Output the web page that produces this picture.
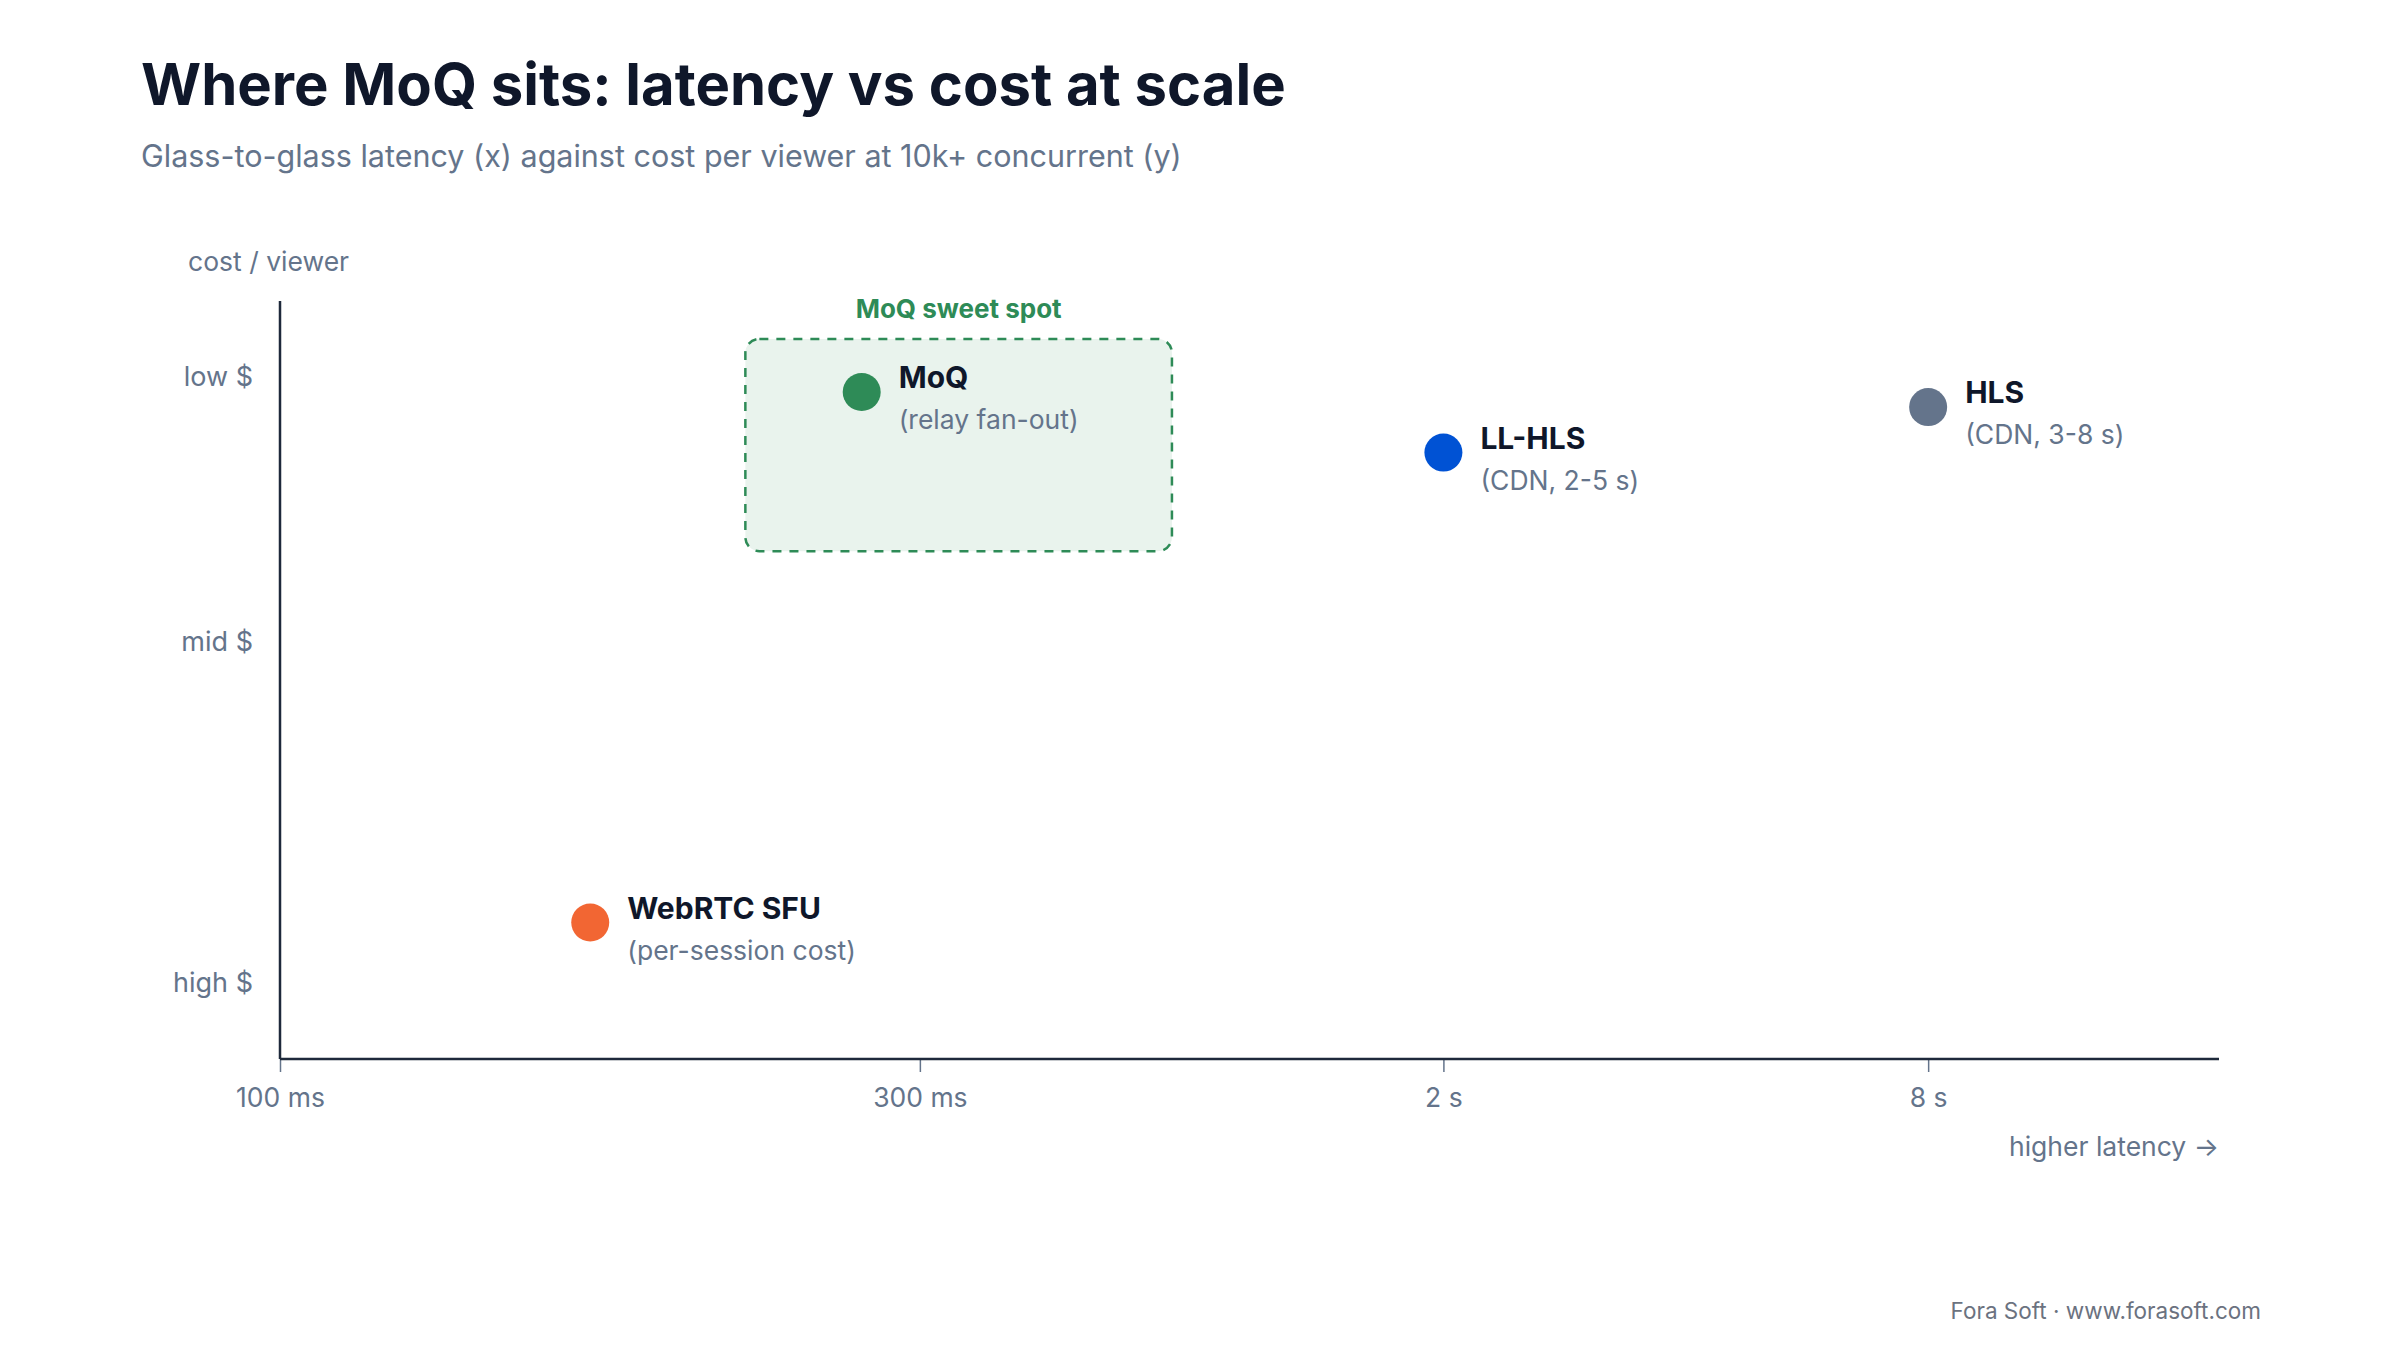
<!DOCTYPE html>
<html>
<head>
<meta charset="utf-8">
<script src="https://cdn.jsdelivr.net/npm/d3@7"></script>
<style>
  html, body { margin: 0; padding: 0; background: #fff; }
  svg { display: block; font-family: Inter, "Noto Sans", sans-serif; }
</style>
</head>
<body>
<div id="chart"></div>
<script>
//////////////////////////////////////////////////////////////////////
// DATA
//////////////////////////////////////////////////////////////////////
// x = relative latency position (0..100), y = relative cost (0 = cheap, 100 = pricey)
let names = ["WebRTC SFU", "MoQ", "LL-HLS", "HLS"]
let notes = ["(per-session cost)", "(relay fan-out)", "(CDN, 2-5 s)", "(CDN, 3-8 s)"]
let latency = [16, 30, 60, 85]
let cost = [82, 12, 20, 14]
let colors = ["#f26633", "#2e8b57", "#0052d4", "#64748b"]

let xTicks = [0, 33, 60, 85]
let xTickLabels = ["100 ms", "300 ms", "2 s", "8 s"]
let yTicks = [10, 45, 90]
let yTickLabels = ["low $", "mid $", "high $"]

// sweet spot region [x0, x1, y0, y1]
let sweetSpot = [24, 46, 5, 33]

let width = 2400
let height = 1360
let margin = { top: 301, right: 181, bottom: 301, left: 280 }

//////////////////////////////////////////////////////////////////////
// SETUP
//////////////////////////////////////////////////////////////////////
let svg = d3
  .select("#chart")
  .append("svg")
  .attr("width", width)
  .attr("height", height)

let x = d3
  .scaleLinear()
  .domain([0, 100])
  .range([margin.left, width - margin.right])

let y = d3
  .scaleLinear()
  .domain([0, 100])
  .range([margin.top, height - margin.bottom])

// title + subtitle
svg
  .append("text")
  .attr("x", 141)
  .attr("y", 105)
  .attr("fill", "#0f172a")
  .attr("font-size", 58)
  .attr("font-weight", 700)
  .text("Where MoQ sits: latency vs cost at scale")

svg
  .append("text")
  .attr("x", 141)
  .attr("y", 167)
  .attr("fill", "#64748b")
  .attr("font-size", 30.5)
  .text("Glass-to-glass latency (x) against cost per viewer at 10k+ concurrent (y)")

//////////////////////////////////////////////////////////////////////
// SWEET SPOT
//////////////////////////////////////////////////////////////////////
svg
  .append("rect")
  .attr("x", x(sweetSpot[0]))
  .attr("y", y(sweetSpot[2]))
  .attr("width", x(sweetSpot[1]) - x(sweetSpot[0]))
  .attr("height", y(sweetSpot[3]) - y(sweetSpot[2]))
  .attr("rx", 14)
  .attr("fill", "#e9f3ed")
  .attr("stroke", "#2e8b57")
  .attr("stroke-width", 2.5)
  .attr("stroke-dasharray", "9,8")

svg
  .append("text")
  .attr("x", (x(sweetSpot[0]) + x(sweetSpot[1])) / 2)
  .attr("y", y(sweetSpot[2]) - 21)
  .attr("text-anchor", "middle")
  .attr("fill", "#2e8b57")
  .attr("font-size", 26)
  .attr("font-weight", 700)
  .text("MoQ sweet spot")

//////////////////////////////////////////////////////////////////////
// AXES
//////////////////////////////////////////////////////////////////////
let xAxis = svg
  .append("g")
  .attr("transform", `translate(0,${y(100)})`)
  .call(
    d3
      .axisBottom(x)
      .tickValues(xTicks)
      .tickFormat((d, i) => xTickLabels[i])
      .tickSize(13)
      .tickPadding(16)
  )
xAxis.select(".domain").remove()
xAxis.selectAll(".tick line").attr("stroke", "#64748b").attr("stroke-width", 1.5)
xAxis
  .selectAll(".tick text")
  .attr("fill", "#64748b")
  .attr("font-size", 26.5)
  .attr("font-family", "Inter, sans-serif")

let yAxis = svg
  .append("g")
  .attr("transform", `translate(${x(0)},0)`)
  .call(
    d3
      .axisLeft(y)
      .tickValues(yTicks)
      .tickFormat((d, i) => yTickLabels[i])
      .tickSize(0)
      .tickPadding(27)
  )
yAxis.select(".domain").remove()
yAxis
  .selectAll(".tick text")
  .attr("fill", "#64748b")
  .attr("font-size", 27)
  .attr("font-family", "Inter, sans-serif")

// axis lines
svg
  .append("line")
  .attr("x1", x(0))
  .attr("x2", x(0))
  .attr("y1", y(0))
  .attr("y2", y(100))
  .attr("stroke", "#1e293b")
  .attr("stroke-width", 2.5)

svg
  .append("line")
  .attr("x1", x(0))
  .attr("x2", x(100))
  .attr("y1", y(100))
  .attr("y2", y(100))
  .attr("stroke", "#1e293b")
  .attr("stroke-width", 2.5)

svg
  .append("text")
  .attr("x", margin.left - 92)
  .attr("y", 271)
  .attr("fill", "#64748b")
  .attr("font-size", 26.5)
  .text("cost / viewer")

svg
  .append("text")
  .attr("x", x(100))
  .attr("y", 1156)
  .attr("text-anchor", "end")
  .attr("fill", "#64748b")
  .attr("font-size", 26.5)
  .text("higher latency \u2192")

//////////////////////////////////////////////////////////////////////
// POINTS
//////////////////////////////////////////////////////////////////////
let pts = svg
  .append("g")
  .selectAll("g")
  .data(names)
  .join("g")
  .attr("transform", (d, i) => `translate(${x(latency[i])},${y(cost[i])})`)

pts
  .append("circle")
  .attr("r", 19)
  .attr("fill", (d, i) => colors[i])

pts
  .append("text")
  .attr("x", 37)
  .attr("y", -4)
  .attr("fill", "#0f172a")
  .attr("font-size", 30)
  .attr("font-weight", 700)
  .text((d) => d)

pts
  .append("text")
  .attr("x", 37)
  .attr("y", 37)
  .attr("fill", "#64748b")
  .attr("font-size", 26.5)
  .text((d, i) => notes[i])

// footer
svg
  .append("text")
  .attr("x", 2261)
  .attr("y", 1319)
  .attr("text-anchor", "end")
  .attr("fill", "#6b7280")
  .attr("font-size", 22.5)
  .text("Fora Soft \u00b7 www.forasoft.com")
</script>
</body>
</html>
